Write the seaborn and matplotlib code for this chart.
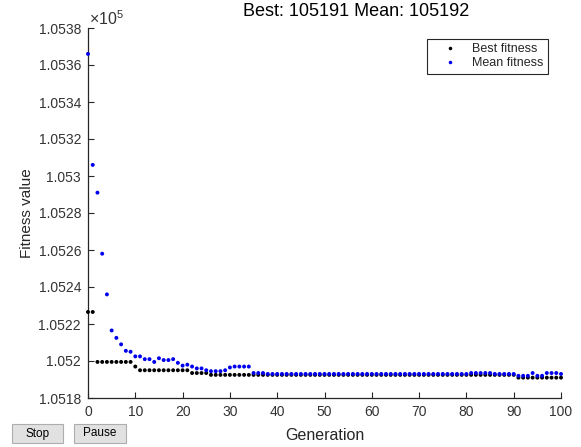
import matplotlib
matplotlib.use("Agg")
import matplotlib.pyplot as plt
from matplotlib.patches import Rectangle
from matplotlib.ticker import FixedLocator, FuncFormatter
import pandas as pd
import seaborn as sns

# data
generations = list(range(101))

best_fitness = [
    105226.5, 105226.5, 105199.5, 105199.5, 105199.5, 105199.5, 105199.5, 105199.5, 105199.5, 105199.5,
    105197.0, 105195.0, 105195.0, 105195.0, 105195.0, 105195.0, 105195.0, 105195.0, 105195.0, 105195.0,
    105195.0, 105195.0, 105193.5, 105193.5, 105193.5, 105193.5, 105192.5, 105192.5, 105192.5, 105192.5,
    105192.5, 105192.5, 105192.5, 105192.5, 105192.5, 105192.5, 105192.5, 105192.5, 105192.5, 105192.5,
    105192.5, 105192.5, 105192.5, 105192.5, 105192.5, 105192.5, 105192.5, 105192.5, 105192.5, 105192.5,
    105192.5, 105192.5, 105192.5, 105192.5, 105192.5, 105192.5, 105192.5, 105192.5, 105192.5, 105192.5,
    105192.5, 105192.5, 105192.5, 105192.5, 105192.5, 105192.5, 105192.5, 105192.5, 105192.5, 105192.5,
    105192.5, 105192.5, 105192.5, 105192.5, 105192.5, 105192.5, 105192.5, 105192.5, 105192.5, 105192.5,
    105192.5, 105192.5, 105192.5, 105192.5, 105192.5, 105192.5, 105192.5, 105192.5, 105192.5, 105192.5,
    105192.5, 105191.0, 105191.0, 105191.0, 105191.0, 105191.0, 105191.0, 105191.0, 105191.0, 105191.0,
    105191.0,
]

mean_fitness = [
    105366.0, 105306.0, 105291.0, 105258.0, 105236.0, 105216.5, 105212.5, 105209.0, 105205.5, 105205.0,
    105202.5, 105202.5, 105201.0, 105201.0, 105199.5, 105201.5, 105200.5, 105200.5, 105201.0, 105199.0,
    105197.5, 105198.0, 105197.0, 105196.0, 105196.0, 105195.0, 105194.5, 105194.5, 105194.5, 105195.0,
    105196.5, 105197.0, 105197.0, 105197.0, 105197.0, 105193.5, 105193.5, 105193.5, 105193.0, 105193.0,
    105193.0, 105193.0, 105193.0, 105193.0, 105193.0, 105193.0, 105193.0, 105193.0, 105193.0, 105193.0,
    105193.0, 105193.0, 105193.0, 105193.0, 105193.0, 105193.0, 105193.0, 105193.0, 105193.0, 105193.0,
    105193.0, 105193.0, 105193.0, 105193.0, 105193.0, 105193.0, 105193.0, 105193.0, 105193.0, 105193.0,
    105193.0, 105193.0, 105193.0, 105193.0, 105193.0, 105193.0, 105193.0, 105193.0, 105193.0, 105193.0,
    105193.0, 105193.5, 105193.5, 105193.5, 105193.5, 105193.5, 105193.0, 105193.0, 105193.0, 105193.0,
    105193.0, 105192.0, 105192.0, 105192.0, 105193.5, 105192.0, 105192.0, 105193.5, 105193.5, 105193.5,
    105193.0,
]

series_names = ["Best fitness", "Mean fitness"]
y_ticks = [105180, 105200, 105220, 105240, 105260, 105280, 105300, 105320, 105340, 105360, 105380]
x_ticks = [0, 10, 20, 30, 40, 50, 60, 70, 80, 90, 100]
title_text = "Best: 105191 Mean: 105192"


def main():
    sns.set_style("white")
    plt.rcParams['font.family'] = ['Liberation Sans', 'DejaVu Sans']
    plt.rcParams['mathtext.fontset'] = 'custom'
    plt.rcParams['mathtext.rm'] = 'Liberation Sans'

    df = pd.concat([
        pd.DataFrame({"Generation": generations, "Fitness": best_fitness, "Series": series_names[0]}),
        pd.DataFrame({"Generation": generations, "Fitness": mean_fitness, "Series": series_names[1]}),
    ], ignore_index=True)

    fig = plt.figure(figsize=(5.81, 4.47), dpi=100)
    ax = fig.add_axes([88 / 581, 1 - 398 / 447, 473 / 581, 370 / 447])

    sns.scatterplot(data=df, x="Generation", y="Fitness", hue="Series", hue_order=series_names,
                    palette={"Best fitness": "black", "Mean fitness": "#0000ee"},
                    s=8, linewidth=0, ax=ax)
    for coll in ax.collections:
        coll.set_clip_on(False)
        coll.set_zorder(3)

    ax.set_xlim(0, 100)
    ax.set_ylim(105180, 105380)
    ax.xaxis.set_major_locator(FixedLocator(x_ticks))
    ax.yaxis.set_major_locator(FixedLocator(y_ticks))
    ax.yaxis.set_major_formatter(FuncFormatter(lambda v, p: f"{v / 1e5:g}"))
    ax.tick_params(bottom=True, left=True, direction='in', length=4, width=0.8, colors='#262626',
                   labelsize=10, labelcolor='#333333', pad=5)
    for side in ['top', 'right']:
        ax.spines[side].set_visible(False)
    for side in ['left', 'bottom']:
        ax.spines[side].set_color('#262626')
        ax.spines[side].set_linewidth(0.9)

    ax.set_xlabel("")
    ax.set_ylabel("")
    fig.text(325 / 581, 1 - 436 / 447, "Generation", ha='center', va='center', fontsize=11.5, color='#262626')
    fig.text(27 / 581, 1 - 213 / 447, "Fitness value", ha='center', va='center', rotation=90,
             fontsize=11, color='#262626')
    fig.text(356 / 581, 1 - 12 / 447, title_text, ha='center', va='center', fontsize=13, color='black')
    fig.text(89 / 581, 1 - 19 / 447, r"$\times\mathregular{10^5}$", ha='left', va='center',
             fontsize=11.5, color='#333333')

    leg = ax.legend(loc='upper right', bbox_to_anchor=(548 / 581, 1 - 39 / 447),
                    bbox_transform=fig.transFigure, fontsize=9, frameon=True, fancybox=False,
                    edgecolor='#262626', framealpha=1, borderpad=0.35, handletextpad=0.3,
                    labelspacing=0.15, markerscale=0.9, handlelength=3.0, borderaxespad=0)
    leg.get_frame().set_linewidth(0.8)

    # Stop / Pause buttons of the GA window
    for x0, x1, label in [(12, 63, "Stop"), (74, 126, "Pause")]:
        fig.patches.append(Rectangle((x0 / 581, 1 - 443 / 447), (x1 - x0) / 581, 19 / 447,
                                     transform=fig.transFigure, facecolor='#e1e1e1',
                                     edgecolor='#adadad', linewidth=0.8))
        fig.text((x0 + x1) / 2 / 581, 1 - 433.5 / 447, label, ha='center', va='center',
                 fontsize=8.5, color='black')

    fig.savefig("out.png", dpi=100)
    plt.close(fig)


if __name__ == "__main__":
    main()
